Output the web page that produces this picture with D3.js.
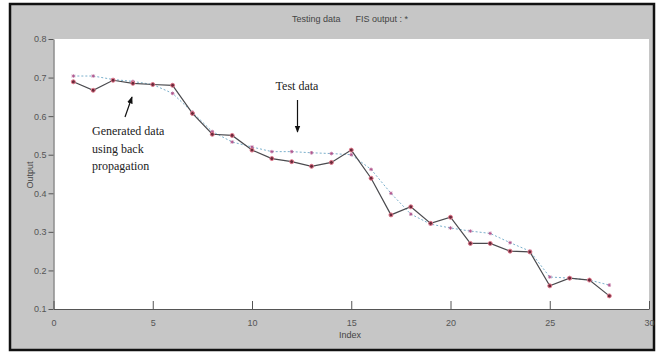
<!DOCTYPE html>
<html>
<head>
<meta charset="utf-8">
<script src="https://cdn.jsdelivr.net/npm/d3@7"></script>
<style>
  body { margin: 0; background: #fff; }
  text { font-family: "Liberation Sans", Arial, sans-serif; white-space: pre; }
  text.note { font-family: "Liberation Serif", "Times New Roman", serif; }
</style>
</head>
<body>
<div id="chart"></div>
<script>
const index = [1, 2, 3, 4, 5, 6, 7, 8, 9, 10, 11, 12, 13, 14, 15, 16, 17, 18, 19, 20, 21, 22, 23, 24, 25, 26, 27, 28];
const fisOutput = [0.689, 0.667, 0.693, 0.685, 0.682, 0.68, 0.607, 0.553, 0.55, 0.512, 0.49, 0.482, 0.47, 0.48, 0.512, 0.439, 0.344, 0.365, 0.322, 0.338, 0.27, 0.27, 0.25, 0.248, 0.16, 0.18, 0.175, 0.134];
const testData = [0.704, 0.704, 0.695, 0.69, 0.682, 0.659, 0.61, 0.56, 0.533, 0.52, 0.508, 0.508, 0.505, 0.503, 0.5, 0.462, 0.4, 0.346, 0.32, 0.31, 0.302, 0.296, 0.272, 0.25, 0.183, 0.18, 0.175, 0.162];
const xTicks = [0, 5, 10, 15, 20, 25, 30];
const yTicks = [0.1, 0.2, 0.3, 0.4, 0.5, 0.6, 0.7, 0.8];

const width = 665;
const height = 355;

const svg = d3.select('#chart')
    .append('svg')
    .attr('width', width)
    .attr('height', height)

// outer frame
svg.append('rect')
    .attr('x', 10).attr('y', 4)
    .attr('width', 644).attr('height', 346)
    .attr('fill', '#c6c6c6')
    .attr('stroke', '#111')
    .attr('stroke-width', 2.5)

const x = d3.scaleLinear().domain([0, 30]).range([53.5, 649]);
const y = d3.scaleLinear().domain([0.1, 0.8]).range([309, 39]);

// plot area
svg.append('rect')
    .attr('x', x(0)).attr('y', y(0.8))
    .attr('width', x(30) - x(0)).attr('height', y(0.1) - y(0.8))
    .attr('fill', '#fff')

const xAxis = svg.append('g')
    .attr('transform', `translate(0,${y(0.1)})`)
    .call(d3.axisBottom(x).tickValues(xTicks).tickSizeInner(-8).tickSizeOuter(0).tickPadding(11))
xAxis.select('.domain').attr('stroke', '#555')
xAxis.selectAll('line').attr('stroke', '#555')
xAxis.selectAll('text').attr('fill', '#555').attr('font-size', 9)

const yAxis = svg.append('g')
    .attr('transform', `translate(${x(0)},0)`)
    .call(d3.axisLeft(y).tickValues(yTicks).tickFormat(d3.format('.1f')).tickSizeInner(5).tickSizeOuter(0).tickPadding(2))
yAxis.select('.domain').attr('stroke', '#555')
yAxis.selectAll('line').attr('stroke', '#555')
yAxis.selectAll('text').attr('fill', '#555').attr('font-size', 9)

// titles
svg.append('text')
    .attr('x', 350).attr('y', 22)
    .attr('text-anchor', 'middle')
    .attr('font-size', 9).attr('fill', '#444')
    .text('Testing data      FIS output : *')

svg.append('text')
    .attr('x', 350).attr('y', 338)
    .attr('text-anchor', 'middle')
    .attr('font-size', 9).attr('fill', '#444')
    .text('Index')

svg.append('text')
    .attr('transform', 'translate(33,175) rotate(-90)')
    .attr('text-anchor', 'middle')
    .attr('font-size', 9).attr('fill', '#444')
    .text('Output')

// lines
const line = d3.line()
    .x((d, i) => x(index[i]))
    .y(d => y(d))

svg.append('path')
    .attr('d', line(testData))
    .attr('fill', 'none')
    .attr('stroke', '#7ab0cc')
    .attr('stroke-width', 1)
    .attr('stroke-dasharray', '2,2')

svg.append('path')
    .attr('d', line(fisOutput))
    .attr('fill', 'none')
    .attr('stroke', '#4a4a4e')
    .attr('stroke-width', 1.2)

// markers
svg.append('g').selectAll('path')
    .data(testData)
    .join('path')
    .attr('transform', (d, i) => `translate(${x(index[i])},${y(d)})`)
    .attr('d', 'M-1.8,0H1.8M0,-1.8V1.8M-1.3,-1.3L1.3,1.3M-1.3,1.3L1.3,-1.3')
    .attr('stroke', '#b0508a')
    .attr('stroke-width', 0.8)

svg.append('g').selectAll('circle')
    .data(fisOutput)
    .join('circle')
    .attr('cx', (d, i) => x(index[i]))
    .attr('cy', d => y(d))
    .attr('r', 2)
    .attr('fill', '#6a2a3a')
    .attr('stroke', '#e27a8e')
    .attr('stroke-width', 1)

// annotations
const defs = svg.append('defs')
defs.append('marker')
    .attr('id', 'head')
    .attr('viewBox', '0 0 10 10')
    .attr('refX', 9).attr('refY', 5)
    .attr('markerWidth', 6).attr('markerHeight', 6)
    .attr('orient', 'auto')
    .append('path')
    .attr('d', 'M0,1L10,5L0,9z')
    .attr('fill', '#111')

svg.append('line')
    .attr('x1', 297.5).attr('y1', 100)
    .attr('x2', 297.5).attr('y2', 132)
    .attr('stroke', '#111').attr('stroke-width', 1.2)
    .attr('marker-end', 'url(#head)')

svg.append('text')
    .attr('class', 'note')
    .attr('x', 297).attr('y', 90)
    .attr('text-anchor', 'middle')
    .attr('font-size', 12).attr('fill', '#222')
    .text('Test data')

svg.append('line')
    .attr('x1', 125).attr('y1', 117)
    .attr('x2', 132).attr('y2', 97)
    .attr('stroke', '#111').attr('stroke-width', 1.2)
    .attr('marker-end', 'url(#head)')

const genLines = ['Generated data', 'using back', 'propagation'];
svg.append('text')
    .attr('class', 'note')
    .attr('font-size', 12).attr('fill', '#222')
    .selectAll('tspan')
    .data(genLines)
    .join('tspan')
    .attr('x', 92)
    .attr('y', (d, i) => 135 + i * 17.5)
    .text(d => d)
</script>
</body>
</html>
